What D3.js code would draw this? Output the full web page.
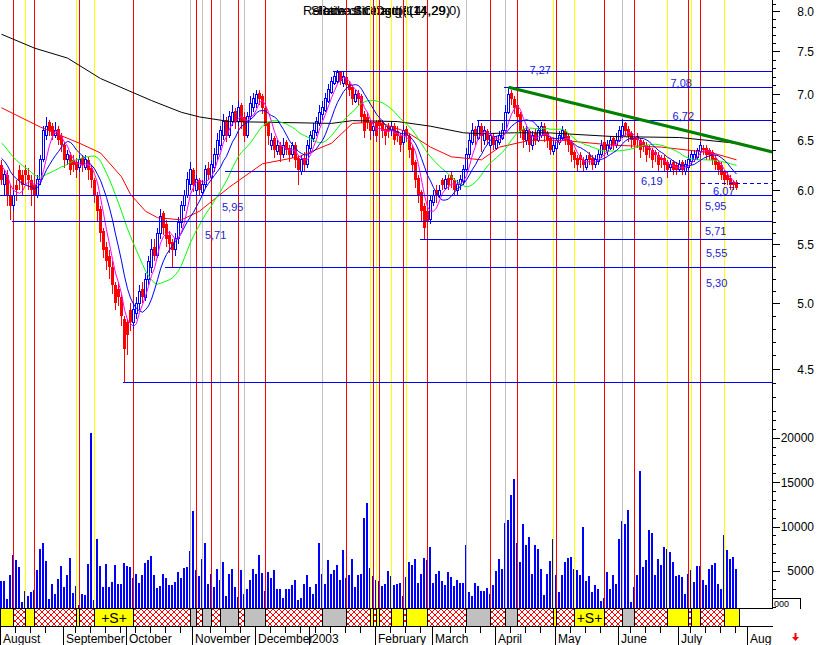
<!DOCTYPE html>
<html><head><meta charset="utf-8">
<script src="https://cdn.jsdelivr.net/npm/d3@7"></script>
<style>body{margin:0;background:#fff} svg{display:block} text{font-family:"Liberation Sans",Arial,sans-serif}</style>
</head><body><svg id="c" width="819" height="645"></svg>
<script>
// ---------- DATA ----------
const open = [6.25,6.05,6.15,5.95,5.85,6.05,6.20,6.15,6.20,6.15, 6.10,6.05,5.95,6.10,6.30,6.55,6.70,6.65,6.55,6.62, 6.55,6.45,6.30,6.35,6.30,6.28,6.22,6.32,6.22,6.30, 6.22,6.10,5.95,5.82,5.62,5.48,5.40,5.30,5.15,5.12, 5.05,4.88,4.85,4.95,4.85,4.92,5.00,5.12,5.05,5.20, 5.30,5.48,5.40,5.60,5.78,5.68,5.58,5.52,5.45,5.55, 5.70,5.85,5.95,6.05,6.20,6.00,6.10,5.98,6.05,6.22, 6.12,6.22,6.35,6.45,6.55,6.72,6.55,6.70,6.82,6.70, 6.88,6.75,6.55,6.75,6.85,6.90,7.02,6.98,6.85,6.68, 6.45,6.52,6.38,6.45,6.35,6.48,6.42,6.35,6.45,6.32, 6.18,6.32,6.25,6.42,6.52,6.58,6.68,6.78,6.82,6.92, 7.02,7.12,7.15,7.25,7.12,7.20,7.12,7.08,6.92,7.02, 6.98,6.78,6.75,6.70,6.60,6.68,6.72,6.68,6.62,6.65, 6.60,6.65,6.60,6.55,6.48,6.62,6.55,6.42,6.28,6.12, 5.98,5.85,5.80,5.72,5.88,6.00,5.95,6.10,6.02,6.12, 6.15,6.10,6.00,6.05,6.08,6.20,6.35,6.48,6.62,6.52, 6.65,6.50,6.60,6.45,6.55,6.42,6.48,6.52,6.60,6.80, 7.02,6.95,6.88,6.78,6.62,6.50,6.60,6.45,6.58,6.50, 6.55,6.65,6.58,6.52,6.38,6.42,6.48,6.52,6.60,6.55, 6.48,6.38,6.32,6.35,6.30,6.22,6.35,6.32,6.25,6.28, 6.35,6.48,6.38,6.42,6.52,6.45,6.50,6.55,6.68,6.62, 6.58,6.52,6.55,6.50,6.48,6.45,6.42,6.40,6.38,6.35, 6.32,6.32,6.28,6.22,6.28,6.25,6.20,6.28,6.18,6.22, 6.28,6.30,6.32,6.38,6.42,6.42,6.40,6.38,6.32,6.28, 6.25,6.18,6.15,6.12,6.08,6.08];
const high = [6.30,6.20,6.20,6.05,6.00,6.10,6.25,6.20,6.25,6.22, 6.15,6.10,6.15,6.35,6.65,6.75,6.72,6.68,6.70,6.65, 6.58,6.48,6.40,6.38,6.35,6.32,6.35,6.35,6.35,6.33, 6.25,6.12,5.98,5.85,5.65,5.52,5.45,5.35,5.18,5.18, 5.08,4.90,4.88,5.00,5.00,5.05,5.15,5.18,5.25,5.40, 5.55,5.55,5.65,5.82,5.80,5.72,5.62,5.55,5.60,5.75, 5.90,6.00,6.18,6.28,6.22,6.15,6.12,6.10,6.25,6.28, 6.30,6.42,6.58,6.65,6.78,6.75,6.82,6.88,6.85,6.92, 6.90,6.80,6.80,6.98,7.02,7.05,7.05,7.00,6.88,6.70, 6.58,6.55,6.50,6.48,6.52,6.50,6.45,6.48,6.48,6.35, 6.35,6.38,6.50,6.60,6.68,6.75,6.88,6.92,7.02,7.12, 7.20,7.26,7.28,7.27,7.25,7.22,7.15,7.10,7.05,7.05, 7.00,6.82,6.80,6.72,6.70,6.72,6.75,6.72,6.65,6.68, 6.70,6.68,6.65,6.58,6.65,6.65,6.58,6.45,6.30,6.15, 6.00,5.88,5.85,5.95,6.00,6.05,6.05,6.12,6.15,6.15, 6.18,6.12,6.10,6.15,6.25,6.42,6.58,6.68,6.65,6.72, 6.68,6.65,6.62,6.60,6.58,6.55,6.60,6.68,6.88,7.08, 7.05,6.98,6.90,6.80,6.65,6.65,6.62,6.60,6.62,6.65, 6.70,6.68,6.60,6.55,6.52,6.58,6.60,6.65,6.62,6.58, 6.50,6.40,6.35,6.38,6.33,6.35,6.38,6.35,6.35,6.40, 6.50,6.52,6.50,6.55,6.55,6.58,6.65,6.73,6.70,6.65, 6.60,6.55,6.58,6.52,6.50,6.48,6.45,6.42,6.40,6.38, 6.35,6.35,6.30,6.30,6.30,6.28,6.30,6.30,6.30,6.35, 6.40,6.40,6.42,6.48,6.45,6.45,6.42,6.40,6.35,6.30, 6.28,6.20,6.18,6.15,6.10,6.10];
const low = [6.05,5.95,5.85,5.72,5.80,5.90,6.00,5.95,6.05,6.00, 5.85,5.88,5.92,6.05,6.28,6.50,6.55,6.50,6.52,6.45, 6.38,6.22,6.25,6.15,6.18,6.12,6.18,6.18,6.20,6.10, 6.02,5.88,5.70,5.52,5.38,5.28,5.20,5.08,4.95,4.98, 4.82,4.41,4.60,4.78,4.80,4.88,4.95,5.00,5.02,5.15, 5.25,5.35,5.38,5.55,5.58,5.48,5.42,5.30,5.40,5.50, 5.65,5.80,5.92,6.00,5.98,5.95,5.95,5.95,6.02,6.10, 6.10,6.18,6.30,6.40,6.50,6.48,6.52,6.65,6.62,6.65, 6.62,6.48,6.52,6.72,6.80,6.85,6.88,6.78,6.58,6.45, 6.40,6.32,6.35,6.28,6.32,6.35,6.28,6.32,6.22,6.05, 6.15,6.18,6.22,6.38,6.48,6.55,6.65,6.72,6.80,6.90, 7.00,7.10,7.12,7.10,7.08,7.02,6.98,6.88,6.90,6.88, 6.68,6.52,6.62,6.50,6.55,6.48,6.58,6.52,6.45,6.52, 6.55,6.45,6.48,6.38,6.45,6.48,6.32,6.18,6.02,5.88, 5.70,5.55,5.58,5.68,5.85,5.88,5.92,6.00,6.00,6.00, 6.02,5.95,5.95,6.00,6.05,6.18,6.32,6.45,6.45,6.50, 6.38,6.45,6.45,6.42,6.40,6.40,6.45,6.50,6.58,6.78, 6.88,6.78,6.68,6.52,6.42,6.45,6.38,6.40,6.45,6.48, 6.52,6.48,6.42,6.35,6.35,6.40,6.45,6.50,6.45,6.38, 6.28,6.22,6.18,6.22,6.18,6.20,6.25,6.20,6.22,6.25, 6.32,6.35,6.35,6.40,6.40,6.42,6.48,6.52,6.55,6.48, 6.42,6.38,6.42,6.32,6.38,6.28,6.32,6.22,6.28,6.18, 6.22,6.18,6.12,6.18,6.15,6.15,6.18,6.15,6.15,6.20, 6.25,6.28,6.30,6.35,6.35,6.30,6.30,6.25,6.20,6.15, 6.10,6.05,6.05,6.00,6.00,6.00];
const close = [6.10,6.15,5.95,5.85,5.95,6.00,6.10,6.05,6.15,6.10, 6.00,5.95,6.10,6.30,6.60,6.65,6.60,6.55,6.60,6.50, 6.45,6.30,6.35,6.20,6.25,6.20,6.30,6.25,6.30,6.20, 6.10,5.95,5.80,5.60,5.45,5.35,5.30,5.15,5.00,5.05, 4.90,4.65,4.75,4.85,4.95,5.00,5.10,5.05,5.20,5.35, 5.45,5.40,5.60,5.75,5.65,5.55,5.50,5.45,5.55,5.70, 5.85,5.95,6.10,6.20,6.05,6.10,6.00,6.05,6.20,6.15, 6.25,6.35,6.50,6.60,6.70,6.55,6.75,6.80,6.70,6.85, 6.70,6.55,6.75,6.90,6.95,7.00,6.95,6.85,6.65,6.55, 6.50,6.40,6.45,6.35,6.45,6.40,6.35,6.45,6.30,6.20, 6.30,6.25,6.45,6.55,6.60,6.70,6.80,6.85,6.95,7.05, 7.15,7.20,7.25,7.15,7.20,7.10,7.05,6.95,7.00,6.95, 6.75,6.60,6.70,6.60,6.65,6.55,6.65,6.60,6.55,6.60, 6.65,6.50,6.55,6.45,6.60,6.55,6.40,6.25,6.10,5.95, 5.80,5.65,5.70,5.90,5.95,5.95,6.00,6.05,6.10,6.05, 6.10,6.00,6.05,6.10,6.20,6.35,6.50,6.60,6.55,6.65, 6.55,6.60,6.50,6.55,6.45,6.50,6.55,6.60,6.80,7.00, 6.95,6.85,6.75,6.60,6.50,6.60,6.45,6.55,6.50,6.60, 6.65,6.55,6.50,6.40,6.45,6.50,6.55,6.60,6.50,6.45, 6.35,6.30,6.25,6.30,6.25,6.30,6.30,6.25,6.30,6.35, 6.45,6.40,6.45,6.50,6.45,6.50,6.60,6.65,6.60,6.55, 6.50,6.45,6.50,6.40,6.45,6.35,6.40,6.30,6.35,6.25, 6.30,6.25,6.20,6.25,6.20,6.20,6.25,6.20,6.25,6.30, 6.35,6.35,6.40,6.45,6.40,6.35,6.35,6.30,6.25,6.20, 6.15,6.10,6.10,6.05,6.05,6.02];
// volume in thousands of shares
const volumeK = [3.9,3.9,1.9,4.6,6.8,6.2,5.4,1.5,2.8,2.2, 2.6,2.9,5.1,7.5,8.1,6.1,1.8,3.5,2.4,4.1, 5.6,3.2,4.6,6.5,2.5,3.3,1.2,2.4,2.3,5.8, 20.5,1.7,8.6,5.6,3.2,5.8,3.2,3.8,5.7,3.5, 3.5,5.9,5.6,5.5,4.2,4.7,3.6,4.5,5.9,6.2, 6.7,4.5,3.1,3.3,4.7,4.2,3.4,3.4,3.8,4.9, 4.2,5.3,5.5,7.3,11.8,5.1,4.4,6.3,8.2,3.5, 4.7,3.2,5.2,4.0,6.0,2.2,4.7,5.2,3.2,2.1, 5.1,2.4,3.0,4.0,5.2,4.7,6.8,4.8,2.8,4.9, 4.2,5.1,3.0,3.0,2.0,3.0,3.0,3.4,4.0,1.7, 2.0,3.5,4.5,3.2,2.4,3.5,8.1,4.7,3.5,6.2, 4.7,5.1,5.7,4.0,7.4,4.2,4.5,6.3,3.2,4.5, 4.7,11.0,12.6,5.3,4.4,4.0,3.9,3.3,3.5,5.0, 4.4,3.4,3.5,3.6,2.2,4.3,6.0,5.7,6.3,3.6, 4.7,6.5,6.2,7.7,3.6,4.7,5.0,3.9,3.4,4.9, 4.3,3.3,4.0,3.6,3.6,7.9,2.6,2.2,3.6,3.3, 2.8,2.8,3.1,2.4,3.4,5.0,6.3,5.2,10.4,10.7, 13.6,15.3,8.1,6.0,10.3,7.9,8.8,4.7,7.9,7.5, 5.2,2.3,4.7,6.1,8.6,4.5,2.6,4.5,6.0,6.5, 6.6,5.2,5.1,4.5,9.9,3.9,4.4,2.6,3.4,3.0, 1.6,2.0,4.9,3.0,4.5,3.5,8.6,10.6,10.3,11.9, 1.5,3.2,4.5,16.3,5.5,6.2,9.6,9.3,4.6,6.3, 5.7,7.7,7.5,7.1,6.0,4.4,4.5,4.3,2.4,4.7, 5.1,3.8,5.6,5.6,4.0,3.4,5.2,5.7,5.9,3.5, 3.0,9.0,7.4,6.3,6.6,5.2];
// closes before the first visible day (seed for the moving averages)
const priorCloses = [6.70,6.75,6.65,6.70,6.60,6.65,6.55,6.60,6.50,6.55,6.45,6.40,6.45,6.35,6.30,6.35,6.25,6.30,6.20];
// long moving averages
const redMADays = [0,13,26,33,40,43,48,52,60,66,76,87,99,110,117,122,126,135,143,150,160,166,176,187,204,220,237,245];
const redMAValues = [6.85,6.64,6.47,6.37,6.13,5.96,5.80,5.74,5.72,5.80,6.03,6.26,6.33,6.47,6.68,6.69,6.69,6.59,6.43,6.33,6.30,6.43,6.50,6.50,6.45,6.43,6.37,6.30];
const blackMADays = [0,11,22,33,50,60,66,76,93,110,117,132,143,154,160,171,182,204,226,245];
const blackMAValues = [7.71,7.54,7.42,7.18,6.93,6.80,6.75,6.70,6.69,6.68,6.71,6.70,6.65,6.58,6.57,6.58,6.58,6.54,6.53,6.47];
// signals: day index and type (Y = yellow, R = red, G = grey)
const signalDays  = [4,8,11,25,26,31,44,63,65,67,70,73,79,81,88,107,115,123,124,125,126,130,134,135,142,155,163,168,172,184,185,191,201,207,211,222,229,230,233,241];
const signalTypes = ["R","Y","R","Y","R","Y","R","G","R","G","R","G","R","G","R","G","R","Y","R","Y","R","Y","R","Y","R","G","R","G","R","Y","R","Y","R","G","R","Y","R","Y","R","Y"];
const signalMarks = {31:"+S+",191:"+S+"};
// horizontal levels
const levelValues    = [7.27,7.08,6.72,6.19,5.95,5.71,5.55,5.30,4.41];
const levelStartDays = [111,168,159,75,-0.5,4,140,55,41];
const dashedLevel = {value:6.07, start:233};
const levelLabels = ["7,27","7,08","6,72","6,19","6,07","5,95","5,71","5,55","5,30","5,95","5,71"];
const labelDays   = [176,223,223.7,213.2,237.2,234.5,234.5,234.8,234.8,73.5,67.8];
const labelPrices = [7.27,7.08,6.72,6.19,6.07,5.95,5.71,5.55,5.30,5.95,5.71];
const labelDy     = [3,0,0,14,12,15,14,18,20,16,18];
// trend line
const trendDays = [169,257];
const trendValues = [7.08,6.38];
// axes
const priceTickLabels = ["4.5","5.0","5.5","6.0","6.5","7.0","7.5","8.0"];
const volumeTickLabels = ["5000","10000","15000","20000"];
const monthNames = ["August","September","October","November","December","2003","February","March","April","May","June","July","August"];
const monthDays  = [0,21,42,64,85,103,125,144,165,185,206,226,249];
const titleTexts = ["Relative Strength(14)","Stochastic Osc(3,14,29,0)","Rate of Change(14,29)"];

// ---------- DRAW ----------
const N = close.length;
const svg = d3.select("#c");
const AX = 772.5, VOL_BOTTOM = 608.5, BAND_BOTTOM = 626.5;
const x = d3.scaleLinear().domain([0,1]).range([1.5,4.5]);
const y = d3.scaleLog().domain([4.5,8]).range([369,11.3]);
const yv = d3.scaleLinear().domain([0,20000]).range([615.4,437.7]);

svg.append("rect").attr("width",819).attr("height",645).attr("fill","#fff");

const defs = svg.append("defs");
const pat = defs.append("pattern").attr("id","hatch").attr("width",6).attr("height",6).attr("patternUnits","userSpaceOnUse");
pat.append("rect").attr("width",6).attr("height",6).attr("fill","#fff");
pat.append("path").attr("d","M0,0L6,6M6,0L0,6").attr("stroke","#ff0000").attr("stroke-width",1);
defs.append("clipPath").attr("id","plotclip").append("rect").attr("x",0).attr("y",0).attr("width",772).attr("height",645);
defs.append("clipPath").attr("id","volclip").append("rect").attr("x",0).attr("y",0).attr("width",772).attr("height",608);

// title
svg.append("g").selectAll("text").data(titleTexts).join("text")
  .attr("x",(d,i)=>[303,311,318][i]).attr("y",15).attr("font-size",13).attr("fill","#000").text(d=>d);

// volume bars
svg.append("g").attr("clip-path","url(#volclip)").selectAll("rect").data(volumeK).join("rect")
  .attr("x",(d,i)=>x(i)-1.5).attr("width",2)
  .attr("y",d=>yv(d*1000)).attr("height",d=>Math.max(0,608-yv(d*1000)))
  .attr("fill","#0000ff").attr("shape-rendering","crispEdges");

// signal vertical lines
const sigColor = {R:"#ff0000",Y:"#ffff00",G:"#c0c0c0"};
svg.append("g").selectAll("line").data(signalDays).join("line")
  .attr("x1",d=>x(d)).attr("x2",d=>x(d)).attr("y1",0).attr("y2",608)
  .attr("stroke",(d,i)=>sigColor[signalTypes[i]]).attr("stroke-width",1).attr("shape-rendering","crispEdges");

// candles
const cg = svg.append("g").attr("shape-rendering","crispEdges");
const idx = d3.range(N);
cg.selectAll("line").data(idx).join("line")
  .attr("x1",i=>x(i)).attr("x2",i=>x(i)).attr("y1",i=>y(high[i])).attr("y2",i=>y(low[i]))
  .attr("stroke",i=>close[i]>=open[i]?"#0000ff":"#ff0000");
cg.selectAll("rect.dn").data(idx.filter(i=>close[i]<open[i])).join("rect").attr("class","dn")
  .attr("x",i=>x(i)-1.5).attr("width",3)
  .attr("y",i=>y(open[i])).attr("height",i=>Math.max(1,y(close[i])-y(open[i])))
  .attr("fill","#ff0000");
cg.selectAll("rect.up").data(idx.filter(i=>close[i]>=open[i])).join("rect").attr("class","up")
  .attr("x",i=>x(i)-1).attr("width",2)
  .attr("y",i=>y(close[i])).attr("height",i=>Math.max(1,y(open[i])-y(close[i])))
  .attr("fill","#fff").attr("stroke","#0000ff").attr("stroke-width",1);

// moving averages
const all = priorCloses.concat(close);
const P = priorCloses.length;
function sma(n){ return idx.map(i=>{ const end=P+i; const st=Math.max(0,end-n+1); return d3.mean(all.slice(st,end+1)); }); }
const line = d3.line().x(d=>x(d[0])).y(d=>y(d[1]));
const mg = svg.append("g").attr("fill","none").attr("stroke-width",1);
mg.append("path").attr("d",line(blackMADays.map((d,i)=>[d,blackMAValues[i]]))).attr("stroke","#000");
mg.append("path").attr("d",line(redMADays.map((d,i)=>[d,redMAValues[i]]))).attr("stroke","#ff0000");
mg.append("path").attr("d",line(sma(20).map((v,i)=>[i,v]))).attr("stroke","#00ff00");
mg.append("path").attr("d",line(sma(10).map((v,i)=>[i,v]))).attr("stroke","#0000ff");
mg.append("path").attr("d",line(sma(5).map((v,i)=>[i,v]))).attr("stroke","#ff00ff");

// level lines
const lg = svg.append("g").attr("shape-rendering","crispEdges");
lg.selectAll("line").data(levelValues).join("line")
  .attr("x1",(d,i)=>x(levelStartDays[i])-1.5).attr("x2",AX)
  .attr("y1",d=>Math.round(y(d))+0.5).attr("y2",d=>Math.round(y(d))+0.5)
  .attr("stroke","#0000ff").attr("stroke-width",1);
lg.append("line").attr("x1",x(dashedLevel.start)).attr("x2",AX)
  .attr("y1",Math.round(y(dashedLevel.value))+0.5).attr("y2",Math.round(y(dashedLevel.value))+0.5)
  .attr("stroke","#0000ff").attr("stroke-dasharray","4,3");

// trend line
svg.append("path").attr("d",line(trendDays.map((d,i)=>[d,trendValues[i]])))
  .attr("stroke","#008000").attr("stroke-width",3).attr("fill","none").attr("clip-path","url(#plotclip)");

// level labels
svg.append("g").selectAll("text").data(levelLabels).join("text")
  .attr("x",(d,i)=>x(labelDays[i])).attr("y",(d,i)=>y(labelPrices[i])+labelDy[i])
  .attr("font-size",11).attr("fill","#2020d0").text(d=>d);

// right axis
const ag = svg.append("g").attr("shape-rendering","crispEdges");
ag.append("line").attr("x1",AX).attr("x2",AX).attr("y1",0).attr("y2",609).attr("stroke","#000");
const pTicks = d3.range(43,82).map(k=>k/10);
ag.selectAll("line.pt").data(pTicks).join("line").attr("class","pt")
  .attr("x1",AX).attr("x2",(d)=>Math.round(d*10)%5===0?780:776)
  .attr("y1",d=>Math.round(y(d))+0.5).attr("y2",d=>Math.round(y(d))+0.5).attr("stroke","#000");
ag.selectAll("text.pl").data(priceTickLabels).join("text").attr("class","pl")
  .attr("x",814).attr("y",d=>y(+d)+4.5).attr("text-anchor","end").attr("font-size",12).text(d=>d);
const vTicks = d3.range(1,24).map(k=>k*1000);
ag.selectAll("line.vt").data(vTicks).join("line").attr("class","vt")
  .attr("x1",AX).attr("x2",d=>d%5000===0?780:776)
  .attr("y1",d=>Math.round(yv(d))+0.5).attr("y2",d=>Math.round(yv(d))+0.5).attr("stroke","#000");
ag.selectAll("text.vl").data(volumeTickLabels).join("text").attr("class","vl")
  .attr("x",814).attr("y",d=>yv(+d)+4.5).attr("text-anchor","end").attr("font-size",12).text(d=>d);
ag.append("path").attr("d","M773,598.5H800.5V609").attr("stroke","#000").attr("fill","none");
svg.append("text").attr("x",774).attr("y",607).attr("font-size",9).text("000");

// signal band
const bounds = [{s:-0.5,t:"Y"}].concat(signalDays.map((d,i)=>({s:d,t:signalTypes[i],m:signalMarks[d]})));
const endX = x(N-1)+3;
const segs = bounds.map((b,k)=>({x0: b.s<0?0:x(b.s), x1: k<bounds.length-1?x(bounds[k+1].s):endX, t:b.t, m:b.m}));
const bg = svg.append("g");
bg.selectAll("rect").data(segs).join("rect")
  .attr("x",d=>d.x0).attr("width",d=>d.x1-d.x0).attr("y",VOL_BOTTOM).attr("height",BAND_BOTTOM-VOL_BOTTOM)
  .attr("fill",d=>d.t==="Y"?"#ffff00":d.t==="G"?"#c0c0c0":"url(#hatch)")
  .attr("stroke","#000").attr("stroke-width",1).attr("shape-rendering","crispEdges");
bg.selectAll("text").data(segs.filter(d=>d.m)).join("text")
  .attr("x",d=>(d.x0+d.x1)/2).attr("y",623).attr("text-anchor","middle").attr("font-size",14).text(d=>d.m);
bg.append("line").attr("x1",0).attr("x2",AX).attr("y1",VOL_BOTTOM).attr("y2",VOL_BOTTOM).attr("stroke","#000").attr("shape-rendering","crispEdges");
bg.append("line").attr("x1",0).attr("x2",AX).attr("y1",BAND_BOTTOM).attr("y2",BAND_BOTTOM).attr("stroke","#000").attr("shape-rendering","crispEdges");

// month axis
const mgx = svg.append("g").attr("clip-path","url(#plotclip)").attr("shape-rendering","crispEdges");
const minorDays = d3.range(5,250,5).filter(d=>!monthDays.some(m=>Math.abs(m-d)<2));
mgx.selectAll("line.mn").data(minorDays).join("line").attr("class","mn")
  .attr("x1",d=>Math.round(x(d)-1.5)+0.5).attr("x2",d=>Math.round(x(d)-1.5)+0.5).attr("y1",627).attr("y2",633).attr("stroke","#000");
mgx.selectAll("line.mj").data(monthDays).join("line").attr("class","mj")
  .attr("x1",d=>Math.round(x(d)-1.5)+0.5).attr("x2",d=>Math.round(x(d)-1.5)+0.5).attr("y1",627).attr("y2",645).attr("stroke","#000");
mgx.selectAll("text").data(monthNames).join("text")
  .attr("x",(d,i)=>x(monthDays[i])+1.5).attr("y",643).attr("font-size",12).text(d=>d);

// red arrow
svg.append("path").attr("d","M795.5,633V638").attr("stroke","#ff0000").attr("stroke-width",2);
svg.append("path").attr("d","M792,637H799L795.5,641Z").attr("fill","#ff0000");
</script></body></html>
